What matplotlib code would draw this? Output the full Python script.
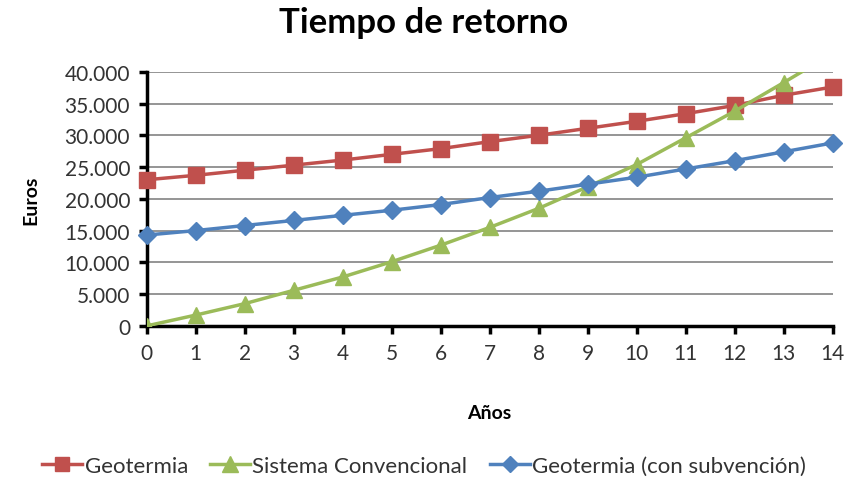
import numpy as np
import matplotlib
matplotlib.use("Agg")
import matplotlib.pyplot as plt
from matplotlib.ticker import FuncFormatter

plt.rcParams['font.family'] = ['Lato', 'DejaVu Sans']

anios = list(range(0, 15))
geotermia = [23000, 23700, 24500, 25300, 26100, 27000, 27900, 29000,
             30000, 31100, 32200, 33400, 34700, 36300, 37600]
convencional = [0, 1700, 3500, 5600, 7700, 10100, 12700, 15500,
                18500, 21900, 25400, 29600, 33800, 38300, 42900]
subvencion = [14300, 15000, 15800, 16600, 17400, 18200, 19100, 20200,
              21200, 22300, 23400, 24700, 26000, 27400, 28800]

rojo = '#C0504D'
verde = '#9BBB59'
azul = '#4F81BD'

fig = plt.figure(figsize=(8.48, 4.85), dpi=100)
ax = fig.add_axes([0.173, 0.326, 0.809, 0.524])

ax.plot(anios, geotermia, color=rojo, lw=2.5, marker='s', ms=11,
        label='Geotermia', clip_on=False, zorder=3)
ax.plot(anios, convencional, color=verde, lw=2.5, marker='^', ms=12,
        label='Sistema Convencional', zorder=4)
ax.plot(anios, subvencion, color=azul, lw=2.5, marker='D', ms=9,
        label='Geotermia (con subvención)', clip_on=False, zorder=5)

ax.set_xlim(0, 14)
ax.set_ylim(0, 40000)
ax.set_xticks(anios)
ax.set_yticks(np.arange(0, 40001, 5000))
ax.yaxis.set_major_formatter(FuncFormatter(lambda v, p: f'{int(v):,}'.replace(',', '.')))
ax.grid(axis='y', color='#8c8c8c', lw=1.3)
ax.set_axisbelow(True)

for s in ['top', 'right']:
    ax.spines[s].set_visible(False)
for s in ['left', 'bottom']:
    ax.spines[s].set_linewidth(2.5)
ax.tick_params(axis='both', direction='out', length=6, width=2.5, labelsize=15,
               pad=6, labelcolor='#333333')

ax.set_ylabel('Euros', fontsize=14, fontweight='bold', labelpad=18)
ax.set_xlabel('Años', fontsize=14, fontweight='bold', labelpad=30)
fig.suptitle('Tiempo de retorno', fontsize=25, fontweight='bold', y=0.985)

fig.legend(loc='lower center', bbox_to_anchor=(0.5, -0.025), ncol=3, frameon=False,
           fontsize=16, handlelength=1.8, handletextpad=0.1, columnspacing=1.0,
           markerscale=0.95, labelcolor='#333333')

fig.savefig('out.png', dpi=100)
